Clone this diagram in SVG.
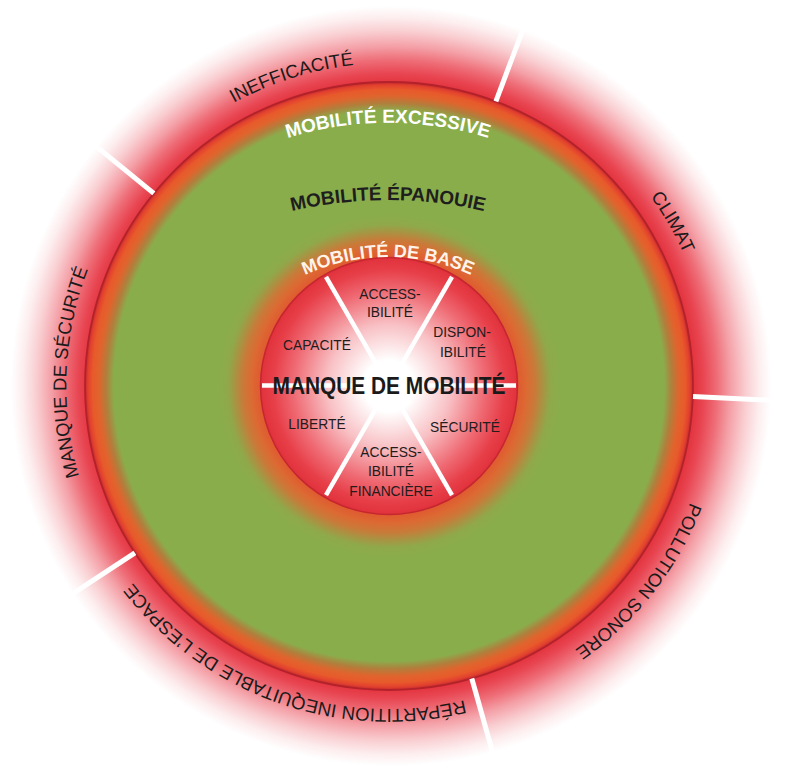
<svg xmlns="http://www.w3.org/2000/svg" width="800" height="777" viewBox="0 0 800 777">
  <style>
    .outer { font-family: "Liberation Sans", Arial, sans-serif; font-size: 18.5px; fill: #1a1a1a; }
    .ring { font-family: "Liberation Sans", Arial, sans-serif; font-weight: bold; }
    .small { font-family: "Liberation Sans", Arial, sans-serif; font-size: 13.8px; fill: #231c1c; text-anchor: middle; }
    .sep { stroke: #ffffff; stroke-width: 5; stroke-linecap: butt; }
    .isep { stroke: #ffffff; stroke-width: 4.5; stroke-linecap: butt; }
  </style>
  <defs>
    <radialGradient id="halo" gradientUnits="userSpaceOnUse" cx="391" cy="386" r="386">
      <stop offset="0.785" stop-color="#e3343f"/>
      <stop offset="0.81" stop-color="#e84652"/>
      <stop offset="0.845" stop-color="#ee6e78"/>
      <stop offset="0.88" stop-color="#f4a0a7"/>
      <stop offset="0.92" stop-color="#f9cfd2"/>
      <stop offset="0.955" stop-color="#fdeeef"/>
      <stop offset="0.985" stop-color="#ffffff"/>
    </radialGradient>
    <radialGradient id="band" gradientUnits="userSpaceOnUse" cx="389" cy="386" r="304">
      <stop offset="0" stop-color="#8aad4c"/>
      <stop offset="0.905" stop-color="#8aad4c"/>
      <stop offset="0.93" stop-color="#b07f3c"/>
      <stop offset="0.955" stop-color="#e0642d"/>
      <stop offset="0.975" stop-color="#e85a2b"/>
      <stop offset="0.99" stop-color="#e2412e"/>
      <stop offset="1" stop-color="#c42a2f"/>
    </radialGradient>
    <radialGradient id="innerband" gradientUnits="userSpaceOnUse" cx="389" cy="386" r="172">
      <stop offset="0.75" stop-color="#e05a30"/>
      <stop offset="0.8" stop-color="#dc6a33"/>
      <stop offset="0.85" stop-color="#c97a39"/>
      <stop offset="0.895" stop-color="#a99343"/>
      <stop offset="0.94" stop-color="#8fa94a"/>
      <stop offset="1" stop-color="#8aad4c"/>
    </radialGradient>
    <radialGradient id="core" gradientUnits="userSpaceOnUse" cx="389" cy="386" r="129">
      <stop offset="0" stop-color="#ffffff"/>
      <stop offset="0.2" stop-color="#ffffff"/>
      <stop offset="0.48" stop-color="#f8c0c4"/>
      <stop offset="0.74" stop-color="#ef6b74"/>
      <stop offset="0.9" stop-color="#e73f49"/>
      <stop offset="1" stop-color="#e0313b"/>
    </radialGradient>
    <path id="pIneff" d="M68.8,428.2 A323,323 0 0 1 675.5,236.9"/>
    <path id="pClimat" d="M278.5,82.5 A323,323 0 0 1 596.6,633.4"/>
    <path id="pPollution" d="M629,169.9 A323,323 0 0 1 237.4,671.2"/>
    <path id="pRepart" d="M670.1,545.1 A323,323 0 0 1 70.4,332.7"/>
    <path id="pSecu" d="M319.1,701.3 A323,323 0 0 1 346.8,65.8"/>
    <path id="pExcess" d="M170.5,201.5 A340,340 0 0 1 605.5,201.5"/>
    <path id="pEpan" d="M178,256.3 A420,420 0 0 1 598,256.3"/>
    <path id="pBase" d="M214.8,357 A200,200 0 0 1 561.2,357"/>
  </defs>

  <g id="rings">
    <circle cx="391" cy="386" r="386" fill="url(#halo)"/>
    <circle cx="389" cy="386" r="304" fill="url(#band)" stroke="#b3222b" stroke-width="1.8"/>
    <circle cx="389" cy="386" r="172" fill="url(#innerband)"/>
    <circle cx="389" cy="386" r="128.5" fill="url(#core)" stroke="#c5262f" stroke-width="1.5"/>
  </g>

  <g id="connectors">
    <line class="sep" x1="153.8" y1="193.4" x2="85.7" y2="137.7"/>
    <line class="sep" x1="495.9" y1="101.4" x2="526.9" y2="19.1"/>
    <line class="sep" x1="693" y1="396.6" x2="780.8" y2="400.7"/>
    <line class="sep" x1="471.8" y1="678.5" x2="495.7" y2="763.2"/>
    <line class="sep" x1="134.9" y1="552.9" x2="61.4" y2="601.2"/>
    <line class="isep" x1="262" y1="385.5" x2="516" y2="385.5"/>
    <line class="isep" x1="326" y1="276.9" x2="452" y2="495.1"/>
    <line class="isep" x1="452" y1="276.9" x2="326" y2="495.1"/>
  </g>

  <g id="outer-labels">
    <g id="ineff"><text class="outer"><textPath href="#pIneff" startOffset="50%" text-anchor="middle">INEFFICACITÉ</textPath></text></g>
    <g id="climat"><text class="outer"><textPath href="#pClimat" startOffset="50%" text-anchor="middle">CLIMAT</textPath></text></g>
    <g id="pollution"><text class="outer"><textPath href="#pPollution" startOffset="50%" text-anchor="middle">POLLUTION SONORE</textPath></text></g>
    <g id="repartition"><text class="outer"><textPath href="#pRepart" startOffset="50%" text-anchor="middle">RÉPARTITION INEQUITABLE DE L’ESPACE</textPath></text></g>
    <g id="securite"><text class="outer"><textPath href="#pSecu" startOffset="50%" text-anchor="middle">MANQUE DE SÉCURITÉ</textPath></text></g>
  </g>

  <g id="ring-labels">
    <g id="excessive"><text class="ring" font-size="19" fill="#ffffff"><textPath href="#pExcess" startOffset="50%" text-anchor="middle">MOBILITÉ EXCESSIVE</textPath></text></g>
    <g id="epanouie"><text class="ring" font-size="19" fill="#1e1e1e"><textPath href="#pEpan" startOffset="50%" text-anchor="middle">MOBILITÉ ÉPANOUIE</textPath></text></g>
    <g id="base"><text class="ring" font-size="18" fill="#fff4ea"><textPath href="#pBase" startOffset="50%" text-anchor="middle">MOBILITÉ DE BASE</textPath></text></g>
  </g>

  <g id="center">
    <text x="389" y="394" text-anchor="middle" font-family="Liberation Sans, Arial, sans-serif" font-weight="bold" font-size="23" fill="#1a1a1a" textLength="233" lengthAdjust="spacingAndGlyphs">MANQUE DE MOBILITÉ</text>
  </g>

  <g id="sectors">
    <g id="accessibilite"><text class="small" x="390" y="299">ACCESS-</text><text class="small" x="390" y="317">IBILITÉ</text></g>
    <g id="disponibilite"><text class="small" x="462" y="337">DISPON-</text><text class="small" x="463" y="357">IBILITÉ</text></g>
    <g id="capacite"><text class="small" x="317" y="350">CAPACITÉ</text></g>
    <g id="liberte"><text class="small" x="317" y="429">LIBERTÉ</text></g>
    <g id="securite-in"><text class="small" x="465" y="431.5">SÉCURITÉ</text></g>
    <g id="financiere"><text class="small" x="391" y="456.5">ACCESS-</text><text class="small" x="391" y="476">IBILITÉ</text><text class="small" x="391" y="495.5">FINANCIÈRE</text></g>
  </g>
</svg>
